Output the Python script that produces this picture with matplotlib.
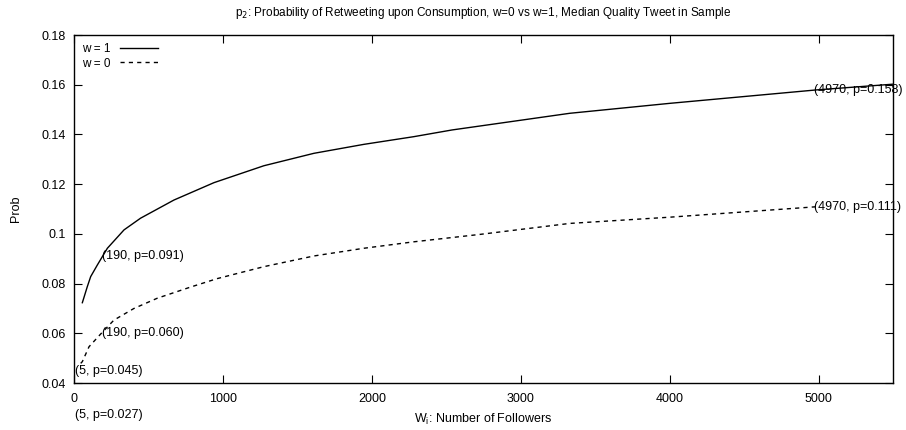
import numpy as np
import matplotlib.pyplot as plt

plt.rcParams['font.family'] = ['Liberation Sans', 'DejaVu Sans']
plt.rcParams['font.size'] = 9

# retweet probability vs follower count
followers_w1 = [56, 89, 112, 157, 224, 336, 447, 671, 940, 1275, 1611, 1946, 2282,
                2539, 3329, 4000, 4984, 5497]
prob_w1 = [0.0723, 0.0787, 0.0828, 0.0875, 0.0942, 0.1016, 0.1063, 0.1136, 0.1206,
           0.1274, 0.1324, 0.1360, 0.1391, 0.1418, 0.1485, 0.1525, 0.1579, 0.1602]

followers_w0 = [45, 56, 101, 179, 268, 403, 559, 783, 962, 1275, 1611, 1946, 2282,
                2729, 3329, 4000, 4984]
prob_w0 = [0.0479, 0.0486, 0.0546, 0.0597, 0.0653, 0.0700, 0.0741, 0.0786, 0.0820,
           0.0868, 0.0911, 0.0942, 0.0968, 0.0998, 0.1042, 0.1067, 0.1109]

# point annotations (x, p)
annotations = [(190, 0.091), (190, 0.060), (5, 0.045), (5, 0.027),
               (4970, 0.158), (4970, 0.111)]

xticks = [0, 1000, 2000, 3000, 4000, 5000]
yticks = [0.04, 0.06, 0.08, 0.1, 0.12, 0.14, 0.16, 0.18]
ytick_labels = ['0.04', '0.06', '0.08', '0.1', '0.12', '0.14', '0.16', '0.18']

fig = plt.figure(figsize=(9.06, 4.30), dpi=100)
ax = fig.add_axes([74 / 906, 1 - 383 / 430, (893 - 74) / 906, (383 - 35) / 430])

ax.plot(followers_w1, prob_w1, color='black', lw=1.0, label='w = 1')
ax.plot(followers_w0, prob_w0, color='black', lw=1.0, dashes=(3, 3), label='w = 0')

for x, p in annotations:
    ax.text(x, p, f'({x}, p={p:.3f})', ha='left', va='center', clip_on=False)

ax.set_xlim(0, 5500)
ax.set_ylim(0.04, 0.18)
ax.set_xticks(xticks)
ax.set_yticks(yticks)
ax.set_yticklabels(ytick_labels)
ax.tick_params(direction='in', length=6, width=0.8, top=True, right=True, pad=7)
ax.tick_params(axis='y', pad=6)

for sp in ax.spines.values():
    sp.set_linewidth(1.0)

ax.set_title('p$_2$: Probability of Retweeting upon Consumption, w=0 vs w=1, '
             'Median Quality Tweet in Sample', fontsize=8.5, pad=14)
ax.set_xlabel('W$_\\mathregular{i}$: Number of Followers', labelpad=5)
ax.set_ylabel('Prob', labelpad=14)

ax.legend(loc='upper left', frameon=False, markerfirst=False, handlelength=3.2,
          handletextpad=0.8, borderaxespad=0.3, labelspacing=0.2, fontsize=8.5)

fig.savefig('out.png', dpi=100)
